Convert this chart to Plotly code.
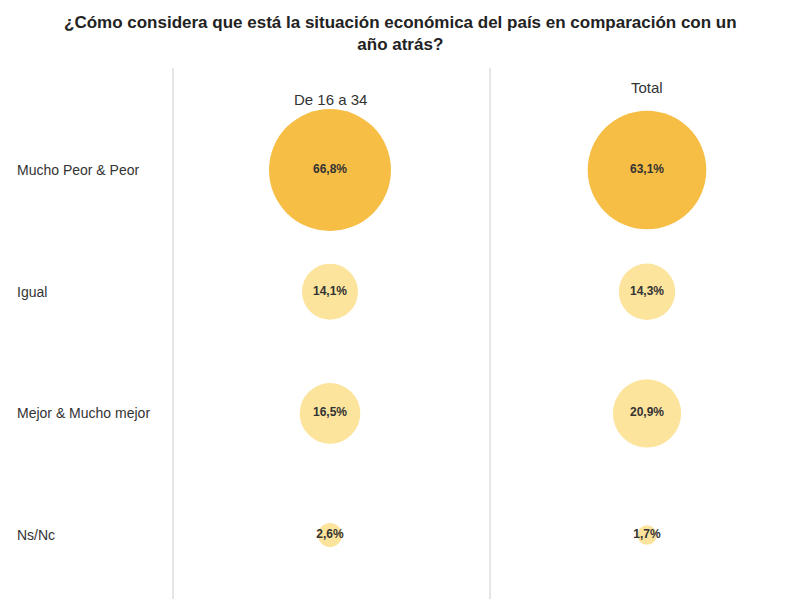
import plotly.graph_objects as go

groups = ["De 16 a 34", "Total"]
rows = ["Mucho Peor & Peor", "Igual", "Mejor & Mucho mejor", "Ns/Nc"]
young = [66.8, 14.1, 16.5, 2.6]
total = [63.1, 14.3, 20.9, 1.7]

W, H = 800, 599
OFF = 8  # page body margin in the browser
fig = go.Figure()

for gi, vals in enumerate([young, total]):
    fig.add_trace(go.Scatter(
        x=[gi] * len(rows),
        y=list(range(len(rows))),
        mode="markers+text",
        text=[f"{v:.1f}%".replace(".", ",") for v in vals],
        textfont=dict(family="Arial", size=12, color="#333"),
        texttemplate="<b>%{text}</b>",
        marker=dict(
            size=vals,
            sizemode="area",
            sizeref=2 * 66.8 / 122 ** 2,
            color=["#F6BE45" if v > 50 else "#FCE49D" for v in vals],
            opacity=1,
            line=dict(width=0),
        ),
        hoverinfo="skip",
        showlegend=False,
    ))

for i, r in enumerate(rows):
    fig.add_annotation(x=(15 - OFF) / W, xref="paper", y=i, yref="y", text=r,
                       showarrow=False, xanchor="left",
                       font=dict(family="Arial", size=14, color="#333"))

fig.add_annotation(x=0, y=-0.58, xref="x", yref="y", text=groups[0], showarrow=False,
                   font=dict(family="Arial", size=15, color="#333"))
fig.add_annotation(x=1, y=-0.68, xref="x", yref="y", text=groups[1], showarrow=False,
                   font=dict(family="Arial", size=15, color="#333"))

for px in [173, 490]:
    fig.add_shape(type="line", xref="paper", yref="paper",
                  x0=(px - OFF) / W, x1=(px - OFF) / W, y0=0, y1=1 - (68 - OFF) / H,
                  line=dict(color="#ccc", width=1))

fig.add_annotation(
    x=(400 - OFF) / W, y=1 - (33 - OFF) / H, xref="paper", yref="paper", showarrow=False,
    yanchor="middle",
    text="<b>¿Cómo considera que está la situación económica del país en comparación con un<br>año atrás?</b>",
    font=dict(family="Arial", size=17, color="#222"),
)

x0 = -(330 - OFF) / 317
y0 = -(170 - OFF) / 121.7
fig.update_xaxes(range=[x0, x0 + W / 317], visible=False, fixedrange=True)
fig.update_yaxes(range=[y0 + H / 121.7, y0], visible=False, fixedrange=True)
fig.update_layout(width=W, height=H, margin=dict(l=0, r=0, t=0, b=0),
                  plot_bgcolor="white", paper_bgcolor="white")

fig.write_html("out.html")
